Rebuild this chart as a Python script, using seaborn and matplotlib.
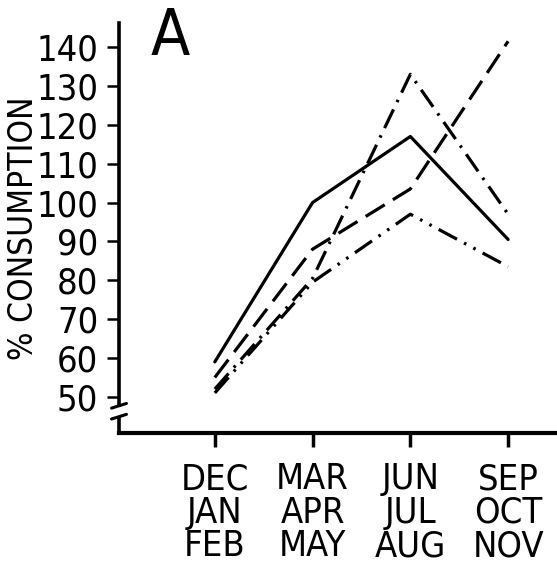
import matplotlib
matplotlib.use("Agg")
import os
import matplotlib.pyplot as plt
import matplotlib.font_manager as fm
import seaborn as sns
import pandas as pd

seasons = ["DEC\nJAN\nFEB", "MAR\nAPR\nMAY", "JUN\nJUL\nAUG", "SEP\nOCT\nNOV"]
solid_vals = [59, 100, 117, 90.5]
dashed_vals = [55, 88, 103.5, 141.5]
dashdot_vals = [52, 80.5, 133, 97]
dashdotdot_vals = [51, 79.5, 97, 83.5]
yticks = [50, 60, 70, 80, 90, 100, 110, 120, 130, 140]

series = {"solid": solid_vals, "dashed": dashed_vals,
          "dashdot": dashdot_vals, "dashdotdot": dashdotdot_vals}
rows = []
for name, vals in series.items():
    for i, v in enumerate(vals):
        rows.append({"pos": i, "value": v, "series": name})
df = pd.DataFrame(rows)

sns.set_style("ticks")
plt.rcParams.update({"text.color": "black", "xtick.color": "black",
                     "ytick.color": "black", "axes.edgecolor": "black"})

files = [f.fname for f in fm.fontManager.ttflist]
prefs = ["LiberationSansNarrow-Regular", "NotoSans-ExtraCondensed.",
         "NotoSans-Condensed.", "DejaVuSansCondensed.", "NotoSans-SemiCondensed.",
         "RobotoCondensed-Regular", "OpenSans-CondensedRegular",
         "OpenSans_Condensed-Regular"]
chosen = None
for p in prefs:
    for fn in files:
        if p in os.path.basename(fn):
            chosen = fn
            break
    if chosen:
        break
if chosen is None:
    for fn in files:
        b = os.path.basename(fn)
        if ("Condensed" in b or "Narrow" in b) and "Bold" not in b and "Italic" not in b \
                and "Light" not in b and "Thin" not in b and "Black" not in b:
            chosen = fn
            break

def fp(size):
    if chosen:
        return fm.FontProperties(fname=chosen, size=size)
    return fm.FontProperties(family="DejaVu Sans", size=size, stretch="condensed")

fig = plt.figure(figsize=(5.57, 5.71), dpi=100)
ax = fig.add_axes([119/557, 1-433/571, 1-119/557, (433-23)/571])

dashes = {"solid": "", "dashed": (7, 3),
          "dashdot": (6.5, 2.5, 0.8, 2.5),
          "dashdotdot": (6.5, 2.5, 0.8, 2.5, 0.8, 2.5)}
sns.lineplot(data=df, x="pos", y="value", style="series", dashes=dashes,
             color="black", linewidth=2.3, legend=False, ax=ax)

ax.set_xlim(-0.98, 3.5)
ax.set_ylim(40.7, 146.2)
ax.set_xticks(range(len(seasons)))
ax.set_xticklabels(seasons, fontproperties=fp(26), linespacing=0.98)
ax.set_yticks(yticks)
ax.set_yticklabels([str(t) for t in yticks], fontproperties=fp(26))
ax.set_xlabel("")
ax.set_ylabel("")
ax.tick_params(axis="y", length=9, width=1.8, pad=6, direction="out")
ax.tick_params(axis="x", length=10, width=2.5, pad=11, direction="out")
for s in ["top", "right"]:
    ax.spines[s].set_visible(False)
ax.spines["bottom"].set_linewidth(3)
ax.spines["left"].set_linewidth(2.6)
ax.spines["left"].set_bounds(47.9, 146.2)
ax.spines["bottom"].set_bounds(-0.98, 3.5)

tr = ax.get_yaxis_transform()
ax.plot([0, 0], [40.7, 44.9], transform=tr, color="black", lw=2.6,
        clip_on=False, solid_capstyle="butt")
for yc in (47.7, 44.9):
    ax.plot([-0.017, 0.017], [yc - 0.6, yc + 0.6], transform=tr,
            color="black", lw=2.2, clip_on=False)

fig.text(24/557, 1-228/571, "% CONSUMPTION", rotation=90,
         fontproperties=fp(24), ha="center", va="center")
fig.text(170/557, 1-37/571, "A", fontproperties=fp(46), ha="center", va="center")

fig.savefig("out.png", dpi=100)
